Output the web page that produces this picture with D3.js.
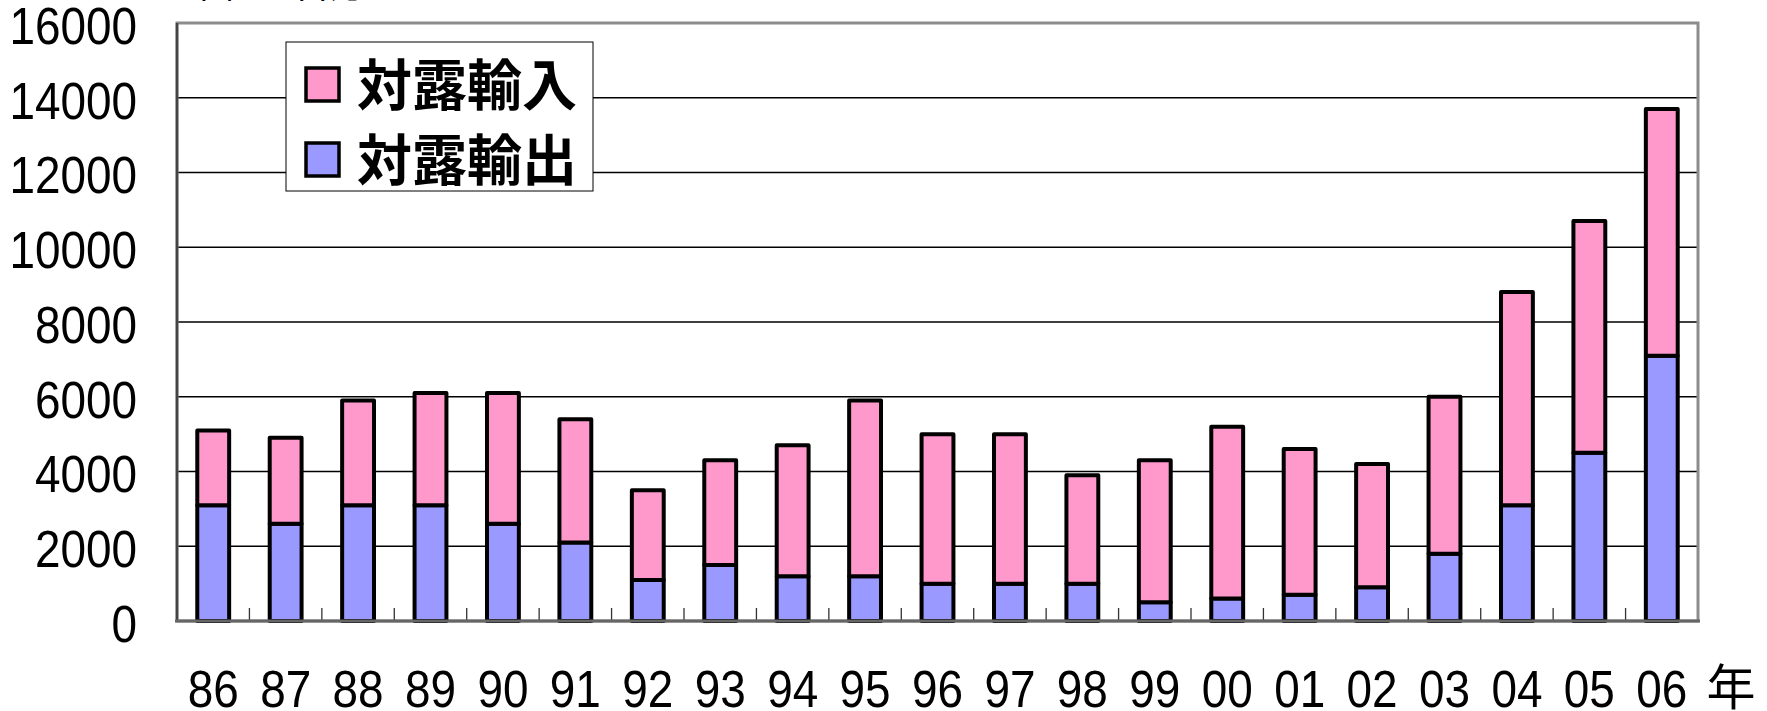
<!DOCTYPE html>
<html>

<head>
  <meta charset="utf-8">
  <title>対露輸出入</title>

  <style>
    body,
    html {
      margin: 0;
      padding: 0;
      background: #fff;
      overflow: hidden;
    }
  </style>
</head>

<body>

  <svg id="svg" width="1767" height="711"></svg>

  <script src="https://d3js.org/d3.v7.min.js"></script>
  <script>
    // data (million US$)
    const years = ["86", "87", "88", "89", "90", "91", "92", "93", "94", "95", "96",
      "97", "98", "99", "00", "01", "02", "03", "04", "05", "06"]
    const exportVals = [3100, 2600, 3100, 3100, 2600, 2100, 1100, 1500, 1200, 1200, 1000,
      1000, 1000, 500, 600, 700, 900, 1800, 3100, 4500, 7100]
    const totalVals = [5100, 4900, 5900, 6100, 6100, 5400, 3500, 4300, 4700, 5900, 5000,
      5000, 3900, 4300, 5200, 4600, 4200, 6000, 8800, 10700, 13700]
    const importVals = totalVals.map((t, i) => t - exportVals[i])
    const seriesNames = ["対露輸出", "対露輸入"]
    const seriesColors = ["#9999FF", "#FF99CC"]
    const yTicks = [0, 2000, 4000, 6000, 8000, 10000, 12000, 14000, 16000]
    const unitLabel = "単位：百万ドル"
    const yearLabel = "年"

    const plotLeft = 177, plotRight = 1698, plotTop = 23, plotBottom = 621
    const numFont = "'Liberation Sans', Arial, sans-serif"
    const cjkFont = "'Noto Sans CJK JP', 'Noto Sans CJK SC', sans-serif"
    const numSize = 51
    const squeeze = "scale(0.9,1)"

    const rows = years.map((y, i) => ({ year: y, exp: exportVals[i], imp: importVals[i] }))

    const xScale = d3.scaleBand()
      .domain(years)
      .range([plotLeft, plotRight])
      .paddingInner(0.56)
      .paddingOuter(0.28)

    const yScale = d3.scaleLinear()
      .domain([0, 16000])
      .range([plotBottom, plotTop])

    const svg = d3.select("#svg")

    // gridlines
    svg.append("g")
      .selectAll("line")
      .data(yTicks.slice(1, -1))
      .enter()
      .append("line")
      .attr("x1", plotLeft)
      .attr("x2", plotRight)
      .attr("y1", d => yScale(d))
      .attr("y2", d => yScale(d))
      .attr("stroke", "#000")
      .attr("stroke-width", 1.3)

    // frame
    svg.append("rect")
      .attr("x", plotLeft)
      .attr("y", plotTop)
      .attr("width", plotRight - plotLeft)
      .attr("height", plotBottom - plotTop)
      .attr("fill", "none")
      .attr("stroke", "#8c8c8c")
      .attr("stroke-width", 3)

    svg.append("line")
      .attr("x1", plotLeft).attr("x2", plotLeft)
      .attr("y1", plotTop).attr("y2", plotBottom)
      .attr("stroke", "#444").attr("stroke-width", 2.5)

    // y labels
    const leftAxis = d3.axisLeft(yScale)
      .tickValues(yTicks)
      .tickFormat(d3.format("d"))
      .tickSize(0)
      .tickPadding(0)
    const ya = svg.append("g")
      .attr("transform", `translate(137, 0)`)
      .call(leftAxis)
    ya.select(".domain").remove()
    ya.selectAll("text")
      .attr("font-family", numFont)
      .attr("font-size", numSize)
      .attr("fill", "#000")
      .attr("dy", "0.4em")
      .attr("transform", squeeze)

    // ticks between categories
    const step = xScale.step()
    svg.append("g")
      .selectAll("line")
      .data(years.slice(0, -1))
      .enter()
      .append("line")
      .attr("x1", d => xScale(d) + xScale.bandwidth() / 2 + step / 2)
      .attr("x2", d => xScale(d) + xScale.bandwidth() / 2 + step / 2)
      .attr("y1", plotBottom)
      .attr("y2", plotBottom - 13)
      .attr("stroke", "#333")
      .attr("stroke-width", 1.3)

    // stacked bars
    const stack = d3.stack().keys(["exp", "imp"])
    const layers = stack(rows)

    svg.append("g")
      .selectAll("g")
      .data(layers)
      .enter()
      .append("g")
      .attr("fill", (d, i) => seriesColors[i])
      .selectAll("rect")
      .data(d => d)
      .enter()
      .append("rect")
      .attr("x", d => xScale(d.data.year))
      .attr("width", xScale.bandwidth())
      .attr("y", d => yScale(d[1]))
      .attr("height", d => yScale(d[0]) - yScale(d[1]))
      .attr("stroke", "#000")
      .attr("stroke-width", 4)
      .attr("stroke-linejoin", "round")

    // bottom axis line
    svg.append("line")
      .attr("x1", plotLeft - 2).attr("x2", plotRight + 2)
      .attr("y1", plotBottom).attr("y2", plotBottom)
      .attr("stroke", "#666").attr("stroke-width", 3)

    // x labels
    const bottomAxis = d3.axisBottom(xScale).tickSize(0).tickPadding(0)
    const xa = svg.append("g")
      .attr("transform", `translate(0, 707)`)
      .call(bottomAxis)
    xa.select(".domain").remove()
    xa.selectAll("text")
      .attr("font-family", numFont)
      .attr("font-size", numSize)
      .attr("fill", "#000")
      .attr("dy", 0)
      .attr("transform", squeeze)

    svg.append("text")
      .attr("x", 1731)
      .attr("y", 705)
      .attr("text-anchor", "middle")
      .attr("font-family", cjkFont)
      .attr("font-size", 49)
      .text(yearLabel)

    // unit label, mostly cut off at the top
    svg.append("text")
      .attr("x", 186)
      .attr("y", -2)
      .attr("font-family", cjkFont)
      .attr("font-size", 36)
      .text(unitLabel)

    // legend
    const legend = svg.append("g")
    legend.append("rect")
      .attr("x", 286)
      .attr("y", 42)
      .attr("width", 307)
      .attr("height", 149)
      .attr("fill", "#fff")
      .attr("stroke", "#000")
      .attr("stroke-width", 1)

    const legendItems = [1, 0]
    legendItems.forEach((s, i) => {
      const cy = 85 + i * 75
      legend.append("rect")
        .attr("x", 306)
        .attr("y", cy - 17)
        .attr("width", 33)
        .attr("height", 33)
        .attr("fill", seriesColors[s])
        .attr("stroke", "#000")
        .attr("stroke-width", 3.5)
      legend.append("text")
        .attr("x", 357)
        .attr("y", cy)
        .attr("dy", "0.36em")
        .attr("font-family", cjkFont)
        .attr("font-weight", "bold")
        .attr("font-size", 55)
        .text(seriesNames[s])
    })
  </script>
</body>

</html>
